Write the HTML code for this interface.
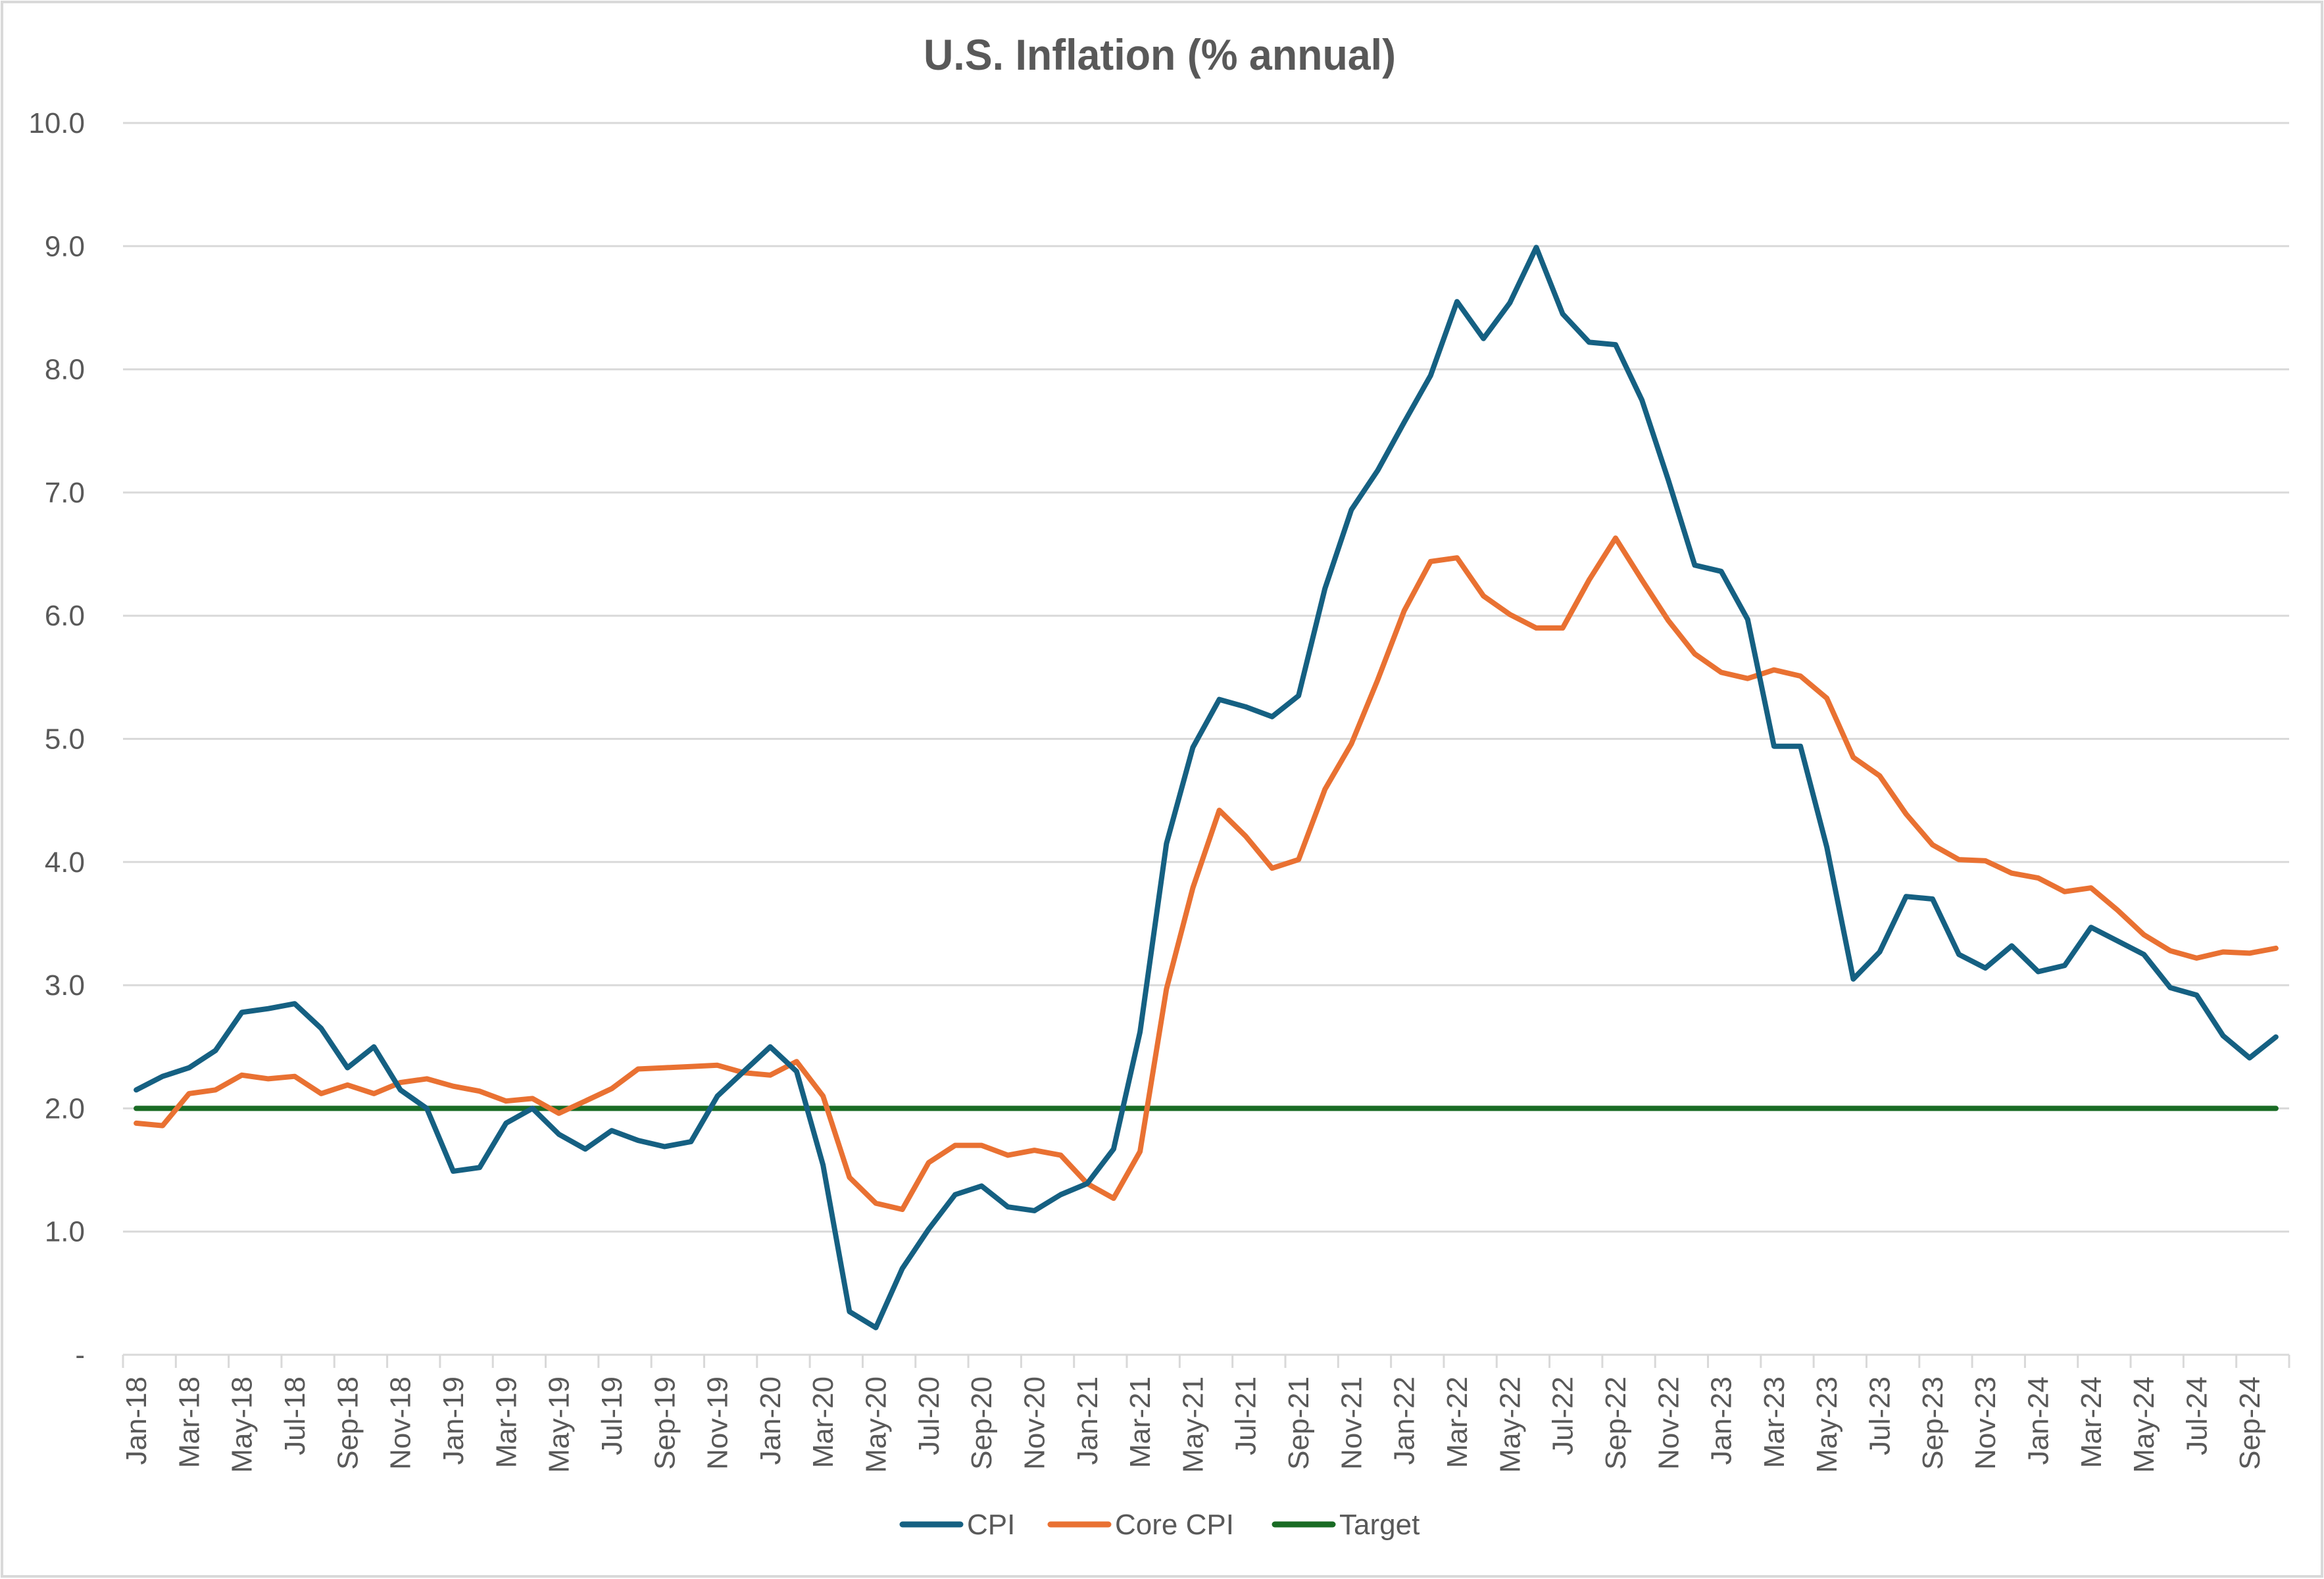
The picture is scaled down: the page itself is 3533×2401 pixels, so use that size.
<!DOCTYPE html>
<html><head><meta charset="utf-8"><style>
html,body{margin:0;padding:0;background:#fff}
svg{display:block}
text{font-family:"Liberation Sans",sans-serif;fill:#595959}
</style></head><body>
<svg id="chart" width="3533" height="2401" viewBox="0 0 3533 2401" xmlns="http://www.w3.org/2000/svg">
<rect x="3" y="3" width="3527" height="2394" fill="#fff" stroke="#d9d9d9" stroke-width="4"/>
<text x="1763" y="106" text-anchor="middle" font-size="66" font-weight="bold" textLength="718" lengthAdjust="spacingAndGlyphs">U.S. Inflation (% annual)</text>
<g id="grid"></g>
<g id="yaxis"></g>
<g id="xaxis"></g>
<g id="series"></g>
<g>
<g><line x1="1372" y1="2318" x2="1460" y2="2318" stroke="#156082" stroke-width="9" stroke-linecap="round"/><text x="1470" y="2333" font-size="44">CPI</text></g>
<g><line x1="1597" y1="2318" x2="1685" y2="2318" stroke="#E97132" stroke-width="9" stroke-linecap="round"/><text x="1695" y="2333" font-size="44">Core CPI</text></g>
<g><line x1="1938" y1="2318" x2="2026" y2="2318" stroke="#196B24" stroke-width="9" stroke-linecap="round"/><text x="2036" y="2333" font-size="44">Target</text></g>
</g>
</svg>
<script>
const months = ["Jan","Feb","Mar","Apr","May","Jun","Jul","Aug","Sep","Oct","Nov","Dec"];
const years = ["18","19","20","21","22","23","24"];
const cpi = [2.15,2.26,2.33,2.47,2.78,2.81,2.85,2.65,2.33,2.50,2.15,2.00,
1.49,1.52,1.88,2.00,1.79,1.67,1.82,1.74,1.69,1.73,2.10,2.30,
2.50,2.30,1.54,0.35,0.22,0.70,1.02,1.30,1.37,1.20,1.17,1.30,
1.39,1.67,2.62,4.15,4.93,5.32,5.26,5.18,5.35,6.22,6.86,7.18,
7.57,7.95,8.55,8.25,8.54,8.99,8.45,8.22,8.20,7.75,7.10,6.41,
6.36,5.97,4.94,4.94,4.12,3.05,3.27,3.72,3.70,3.25,3.14,3.32,
3.11,3.16,3.47,3.36,3.25,2.98,2.92,2.59,2.41,2.58];
const core = [1.88,1.86,2.12,2.15,2.27,2.24,2.26,2.12,2.19,2.12,2.21,2.24,
2.18,2.14,2.06,2.08,1.96,2.06,2.16,2.32,2.33,2.34,2.35,2.29,
2.27,2.38,2.10,1.44,1.23,1.18,1.56,1.70,1.70,1.62,1.66,1.62,
1.39,1.27,1.65,2.97,3.79,4.42,4.21,3.95,4.02,4.59,4.96,5.48,
6.04,6.44,6.47,6.16,6.01,5.90,5.90,6.29,6.63,6.29,5.96,5.69,
5.54,5.49,5.56,5.51,5.33,4.85,4.70,4.39,4.14,4.02,4.01,3.91,
3.87,3.76,3.79,3.61,3.41,3.28,3.22,3.27,3.26,3.30];
const target = Array(82).fill(2.0);
const yTicks = [0,1,2,3,4,5,6,7,8,9,10];
const yTickLabels = ["-","1.0","2.0","3.0","4.0","5.0","6.0","7.0","8.0","9.0","10.0"];

const categories = [];
for (const y of years) for (const m of months) if (categories.length < cpi.length) categories.push(m + "-" + y);

const NS = "http://www.w3.org/2000/svg";
const L = 187, R = 3480, Y0 = 2060, Y10 = 187;
const n = categories.length;
const cw = (R - L) / n;
const xPos = i => L + (i + 0.5) * cw;
const yPos = v => Y0 - (v / 10) * (Y0 - Y10);

function mk(tag, attrs, parent) {
  const e = document.createElementNS(NS, tag);
  for (const k in attrs) e.setAttribute(k, attrs[k]);
  parent.appendChild(e);
  return e;
}
const grid = document.getElementById('grid');
const yaxis = document.getElementById('yaxis');
const xaxis = document.getElementById('xaxis');
const series = document.getElementById('series');

yTicks.forEach((v, i) => {
  if (v > 0) {
    const g = mk('line', {x1: L, x2: R, y1: yPos(v), y2: yPos(v), stroke: '#d9d9d9', 'stroke-width': 3}, grid);
    
    
  }
  const t = mk('text', {x: 129, y: yPos(v) + 15, 'text-anchor': 'end', 'font-size': 44}, yaxis);
  t.textContent = yTickLabels[i];
  
  
});

const ax = mk('line', {x1: L, x2: R, y1: Y0, y2: Y0, stroke: '#d9d9d9', 'stroke-width': 3}, xaxis);


for (let i = 0; i <= n; i += 2) {
  const tk = mk('line', {x1: L + i * cw, x2: L + i * cw, y1: Y0, y2: Y0 + 20, stroke: '#d9d9d9', 'stroke-width': 3}, xaxis);
  
  
}
for (let i = 0; i < n; i += 2) {
  const x = xPos(i), y = 2093;
  const t = mk('text', {x: x, y: y, 'text-anchor': 'end', 'font-size': 44, transform: `rotate(-90 ${x} ${y})`, dy: 15}, xaxis);
  t.textContent = categories[i];
  
  
}

function drawLine(vals, color, name) {
  const d = vals.map((v, i) => (i ? 'L' : 'M') + xPos(i).toFixed(1) + ' ' + yPos(v).toFixed(1)).join(' ');
  const p = mk('path', {d: d, fill: 'none', stroke: color, 'stroke-width': 8, 'stroke-linejoin': 'round', 'stroke-linecap': 'round'}, series);
  
  
}
drawLine(target, '#196B24', 'target-line');
drawLine(core, '#E97132', 'core-cpi-line');
drawLine(cpi, '#156082', 'cpi-line');
</script>
</body></html>
